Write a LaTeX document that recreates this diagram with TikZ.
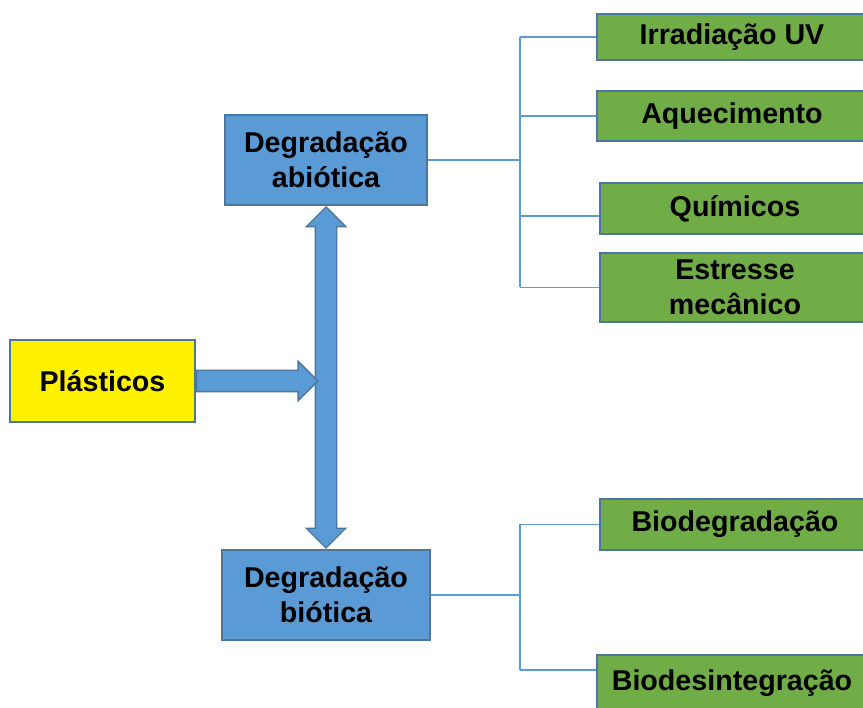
\documentclass[tikz,border=0pt]{standalone}
\usepackage{fontspec}
\setmainfont{Liberation Sans}
\usetikzlibrary{shapes.arrows,calc}
\definecolor{boxblue}{HTML}{5B9BD5}
\definecolor{boxedge}{HTML}{4A76A0}
\definecolor{boxgreen}{HTML}{70AD47}
\tikzset{
  box/.style={draw=boxedge,line width=1.2pt,align=center,inner sep=0pt,
    font=\fontsize{16.3}{20}\selectfont\bfseries},
  mainbox/.style={box,fill=boxblue},
  leafbox/.style={box,fill=boxgreen,minimum width=5.4cm},
  link/.style={draw=boxblue,line width=0.8pt},
  fatarrow/.style={fill=boxblue,draw=boxedge,line width=0.8pt,inner xsep=0pt,inner ysep=0.2cm}
}
\begin{document}
\begin{tikzpicture}
                \useasboundingbox (0,0) rectangle (17.26,14.14);
                %% main boxes
                \node[box,fill=yellow,minimum width=3.7cm,minimum height=1.64cm] (plast) at (2.05,6.52) {Plásticos};
                \node[mainbox,minimum width=4.04cm,minimum height=1.8cm] (abio) at (6.52,10.94) {Degradação\\abiótica};
                \node[mainbox,minimum width=4.16cm,minimum height=1.8cm] (bio) at (6.52,2.24) {Degradação\\biótica};
                %% abiotic factors
                \node[leafbox,minimum height=0.92cm] (uv) at (14.64,13.4) {Irradiação UV};
                \node[leafbox,minimum height=1.0cm] (aq) at (14.64,11.82) {Aquecimento};
                \node[leafbox,minimum height=1.02cm] (quim) at (14.7,9.97) {Químicos};
                \node[leafbox,minimum height=1.38cm] (estr) at (14.7,8.39) {Estresse\\mecânico};
                %% biotic factors
                \node[leafbox,minimum height=1.02cm] (biodeg) at (14.7,3.65) {Biodegradação};
                \node[leafbox,minimum height=1.12cm] (biodes) at (14.64,0.48) {Biodesintegração};
                %% arrows
                \node[fatarrow,double arrow,rotate=90,minimum height=6.82cm,
                  double arrow head extend=0.18cm] (updown) at ($(abio.south)!0.5!(bio.north)$) {};
                \node[fatarrow,single arrow,anchor=tail,minimum height=2.42cm,
                  single arrow head extend=0.18cm] (push) at (plast.east) {};
                %% tree lines
                \coordinate (hubA) at (10.4,0 |- abio.east);
                \coordinate (hubB) at (10.4,0 |- bio.east);
                \coordinate (quimin) at ([yshift=-0.15cm]quim.west);
                \coordinate (biodesin) at ([yshift=0.26cm]biodes.west);
                \draw[link] (abio.east) -- (hubA);
                \draw[link] (bio.east) -- (hubB);
                \draw[link] (hubA |- uv.west) -- (hubA |- estr.west);
                \draw[link] (hubB |- biodeg.west) -- (hubB |- biodesin);
                \foreach \n in {uv,aq,quimin,estr} \draw[link] (hubA |- \n) -- (\n);
                \foreach \n in {biodeg,biodesin} \draw[link] (hubB |- \n) -- (\n);
            \end{tikzpicture}
\end{document}
